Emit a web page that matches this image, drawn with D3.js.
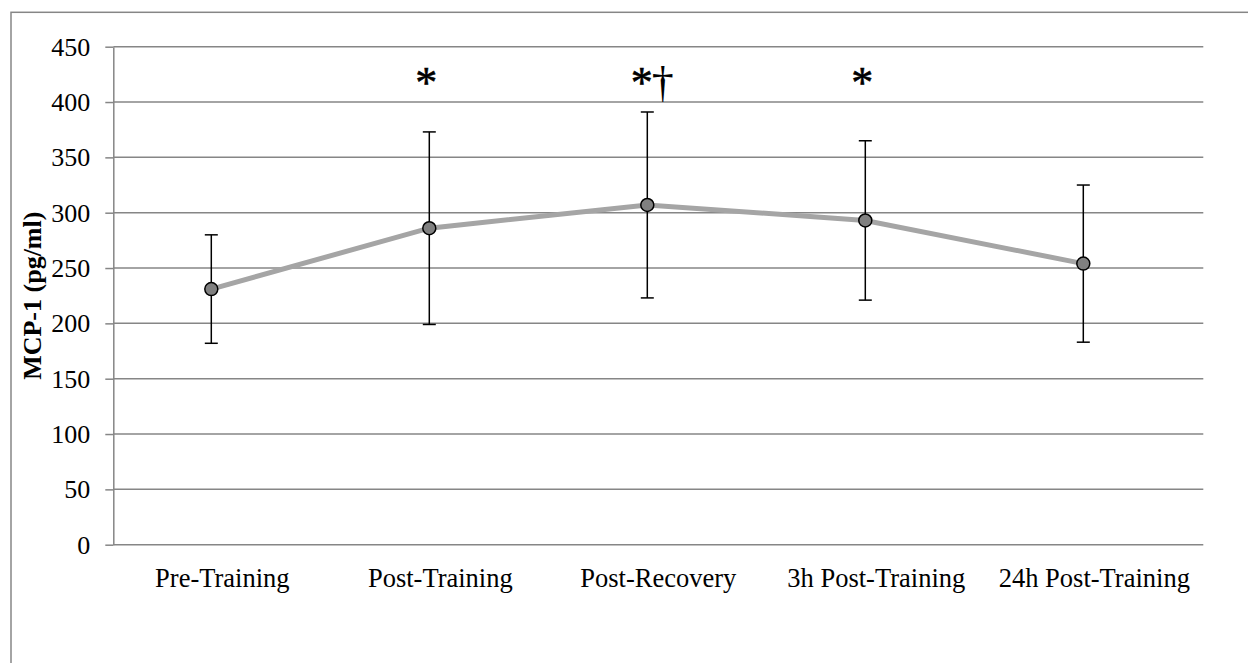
<!DOCTYPE html>
<html>
<head>
	<title>MCP-1</title>
	<meta charset='utf-8'>
	<style>
		body {
			margin: 0;
			background: #fff;
		}

		text {
			font-family: 'Liberation Serif', 'Times New Roman', serif;
			fill: #000;
		}

		.grid line {
			stroke: #868686;
			stroke-width: 1.5px;
		}

		.axis path,
		.axis line {
			stroke: #868686;
			stroke-width: 1.5px;
		}

		.line {
			fill: none;
			stroke: #a5a5a5;
			stroke-width: 5px;
		}

		.err {
			stroke: #000;
			stroke-width: 1.5px;
		}

		.dot {
			fill: #808080;
			stroke: #000;
			stroke-width: 1.5px;
		}
	</style>
</head>
<body>

<script src='https://d3js.org/d3.v7.min.js'></script>
<script>
	'use strict';

	const categories = ['Pre-Training', 'Post-Training', 'Post-Recovery', '3h Post-Training', '24h Post-Training'];
	const means = [231, 286, 307, 293, 254];
	const sds = [49, 87, 84, 72, 71];
	const marks = ['', '*', '*', '*', ''];
	const daggers = ['', '', '†', '', ''];
	const yTicks = [0, 50, 100, 150, 200, 250, 300, 350, 400, 450];

	const width = 1248;
	const height = 663;
	const plot = {left: 113.3, right: 1203.3, top: 46.7, bottom: 544.7};

	const data = categories.map(function(c, i) {
		return {cat: c, mean: means[i], sd: sds[i], mark: marks[i], dagger: daggers[i]};
	});

	const xScale = d3.scaleBand().domain(categories).range([plot.left, plot.right]);
	const yScale = d3.scaleLinear().domain([0, 450]).range([plot.bottom, plot.top]);

	// точки в Excel чуть сдвинуты влево от центра категории
	const xPos = function(d) {return xScale(d.cat) + xScale.bandwidth() / 2 - 11;};

	const svg = d3.select('body').append('svg')
		.attr('width', width)
		.attr('height', height);

	// рамка области диаграммы
	svg.append('rect')
		.attr('x', 11)
		.attr('y', 12.3)
		.attr('width', width)
		.attr('height', height)
		.attr('fill', 'none')
		.attr('stroke', '#868686')
		.attr('stroke-width', 1.5);

	// сетка
	svg.append('g')
		.attr('class', 'grid')
		.selectAll('line')
		.data(yTicks.filter(function(t) {return t > 0;}))
		.enter().append('line')
		.attr('x1', plot.left)
		.attr('x2', plot.right)
		.attr('y1', function(d) {return yScale(d);})
		.attr('y2', function(d) {return yScale(d);});

	const yAxis = svg.append('g')
		.attr('class', 'axis axis__y')
		.attr('transform', 'translate(' + plot.left + ',0)')
		.call(d3.axisLeft(yScale).tickValues(yTicks).tickSize(8).tickPadding(15).tickSizeOuter(0));
	yAxis.attr('font-family', null);
	yAxis.selectAll('text')
		.style('font-size', '26px')
		.attr('dy', '0.33em');

	const xAxis = svg.append('g')
		.attr('class', 'axis axis__x')
		.attr('transform', 'translate(0,' + plot.bottom + ')')
		.call(d3.axisBottom(xScale).tickSize(0).tickPadding(0).tickSizeOuter(0));
	xAxis.attr('font-family', null);
	xAxis.select('.domain').attr('d', 'M' + plot.left + ',0H' + plot.right);
	xAxis.selectAll('text')
		.style('font-size', '26.5px')
		.attr('dy', null)
		.attr('y', 42);

	// подпись оси Y
	svg.append('text')
		.attr('transform', 'translate(32,' + ((plot.top + plot.bottom) / 2) + ') rotate(-90)')
		.attr('text-anchor', 'middle')
		.attr('dy', '0.35em')
		.style('font-size', '26px')
		.style('font-weight', 'bold')
		.text('MCP-1 (pg/ml)');

	// линия
	const valueline = d3.line()
		.x(xPos)
		.y(function(d) {return yScale(d.mean);});

	svg.append('path')
		.datum(data)
		.attr('class', 'line')
		.attr('d', valueline);

	// погрешности
	const err = svg.append('g').selectAll('g')
		.data(data)
		.enter().append('g')
		.attr('class', 'err');

	err.append('line')
		.attr('x1', xPos).attr('x2', xPos)
		.attr('y1', function(d) {return yScale(d.mean + d.sd);})
		.attr('y2', function(d) {return yScale(d.mean - d.sd);});

	[1, -1].forEach(function(s) {
		err.append('line')
			.attr('x1', function(d) {return xPos(d) - 6.5;})
			.attr('x2', function(d) {return xPos(d) + 6.5;})
			.attr('y1', function(d) {return yScale(d.mean + s * d.sd);})
			.attr('y2', function(d) {return yScale(d.mean + s * d.sd);});
	});

	svg.append('g').selectAll('circle')
		.data(data)
		.enter().append('circle')
		.attr('class', 'dot')
		.attr('r', 6.5)
		.attr('cx', xPos)
		.attr('cy', function(d) {return yScale(d.mean);});

	// значимость
	svg.append('g').selectAll('text')
		.data(data.filter(function(d) {return d.mark;}))
		.enter().append('text')
		.attr('x', function(d) {return d.dagger ? xPos(d) - 5.5 : xPos(d) - 3;})
		.attr('y', 97)
		.attr('text-anchor', 'middle')
		.style('font-size', '44px')
		.style('stroke', '#000')
		.style('stroke-width', '0.6px')
		.text(function(d) {return d.mark;});

	svg.append('g').selectAll('text')
		.data(data.filter(function(d) {return d.dagger;}))
		.enter().append('text')
		.attr('x', function(d) {return xPos(d) + 15.5;})
		.attr('y', 97)
		.attr('text-anchor', 'middle')
		.style('font-size', '44px')
		.text(function(d) {return d.dagger;});

</script>
</body>
</html>
